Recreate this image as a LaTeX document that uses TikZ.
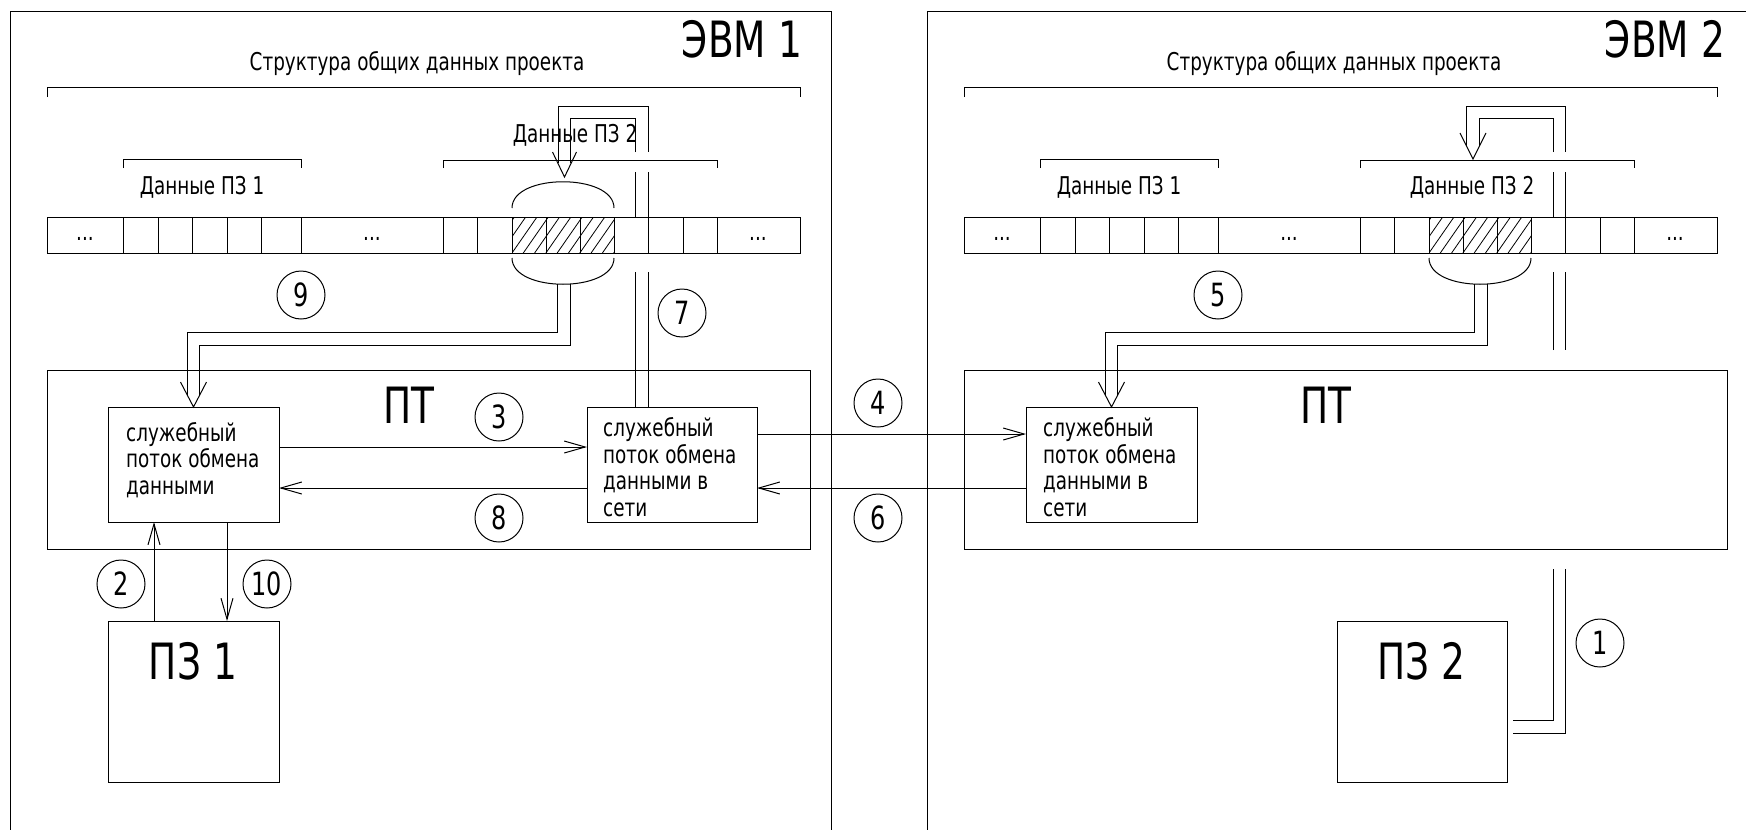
\documentclass[tikz,border=0pt]{standalone}
\usepackage{fontspec}
\setmainfont{DejaVu Sans}[FakeStretch=0.75]
\usetikzlibrary{arrows.meta,calc}
\tikzset{
  ln/.style={line width=1pt},
  hatch/.style={line width=0.8pt},
  arr/.style={line width=1pt, -{Straight Barb[length=21pt,width=12pt]}},
  pipe/.style={line width=1pt, double=white, double distance=11.5pt},
  vhead/.style={line width=1pt},
  box/.style={draw, line width=1pt, rectangle, inner sep=0pt, outer sep=0pt, anchor=north west},
  circ/.style={draw, line width=1pt, circle, minimum size=48pt, inner sep=0pt, font=\fontsize{32}{34}\selectfont},
  small/.style={inner sep=0pt, font=\fontsize{24.5}{26.5}\selectfont},
  big/.style={inner sep=0pt, font=\fontsize{50}{54}\selectfont},
}
\newcommand\datastruct[2]{%
 \begin{scope}[xshift=#1pt]
  \begin{scope}
   \clip (512,217) rectangle (614,253);
   \foreach \hk in {-3,...,10} \draw[hatch] (512+\hk*11.3,253) -- ++(25,-36);
  \end{scope}
  \draw[ln] (47,217) rectangle (800,253);
  \foreach \xx in {123,158,192,227,261,301,443,477,512,546,580,614,648,683,717} \draw[ln] (\xx,217) -- (\xx,253);
  \node[small] (#2dotsA) at (85,239) {...};
  \node[small] (#2dotsB) at (372,239) {...};
  \node[small] (#2dotsC) at (758,239) {...};
  \draw[ln] (47,97) -- (47,87) -- (800,87) -- (800,97);
  \draw[ln] (123,168) -- (123,159) -- (301,159) -- (301,168);
  \draw[ln] (443,168) -- (443,160) -- (717,160) -- (717,168);
  \draw[ln] (512,258) .. controls (512,293) and (614,293) .. (614,258);
  \node[small, anchor=base] (#2title) at (417,70) {Структура общих данных проекта};
  \node[small, anchor=base] (#2pzdata) at (202,194) {Данные ПЗ 1};
 \end{scope}}
\begin{document}
\begin{tikzpicture}[x=1pt,y=-1pt]
\useasboundingbox (0,0) rectangle (1746,830);
\clip (0,0) rectangle (1746,830);
% frames of the two computers
\draw[ln] (10,840) -- (10,11) -- (831,11) -- (831,840);
\draw[ln] (927,840) -- (927,11) -- (1760,11);
\node[big, anchor=base] (evm1) at (742,57) {ЭВМ 1};
\node[big, anchor=base] (evm2) at (1665,57) {ЭВМ 2};

% boxes
\node[box, minimum width=763, minimum height=179] (pt1) at (47,370) {};
\node[box, minimum width=763, minimum height=179] (pt2) at (964,370) {};
\node[box, minimum width=171, minimum height=115] (sl1) at (108,407) {};
\node[box, minimum width=170, minimum height=115] (net1) at (587,407) {};
\node[box, minimum width=171, minimum height=115] (net2) at (1026,407) {};
\node[box, minimum width=171, minimum height=161] (pz1) at (108,621) {};
\node[box, minimum width=170, minimum height=161] (pz2) at (1337,621) {};

% pipes (double connectors)
% ЭВМ1: data -> service stream (9)
\coordinate (capA) at (564,284);
\draw[pipe] (capA) -- (564,339) -- (sl1.north |- 0,339) -- ($(sl1.north)+(0,-12)$);
\draw[vhead] ($(sl1.north)+(-13,-25)$) -- (sl1.north) -- ($(sl1.north)+(13,-25)$);
% ЭВМ1: network stream -> data (7)
\coordinate (p7) at ($(net1.north west)+(55,0)$);
\draw[pipe] (p7) -- (p7 |- 0,272);
\draw[pipe] (p7 |- 0,217) -- (p7 |- 0,172);
\coordinate (tipA) at (564.5,177);
\draw[pipe] (p7 |- 0,152) -- (p7 |- 0,112.5) -- (tipA |- 0,112.5) -- ($(tipA)+(0,-14)$);
\draw[vhead] ($(tipA)+(-12,-25)$) -- (tipA) -- ($(tipA)+(12,-25)$);
% ЭВМ2: data -> network stream (5)
\coordinate (capB) at (1481,284);
\draw[pipe] (capB) -- (1481,339) -- (net2.north |- 0,339) -- ($(net2.north)+(0,-12)$);
\draw[vhead] ($(net2.north)+(-13,-25)$) -- (net2.north) -- ($(net2.north)+(13,-25)$);
% ЭВМ2: ПЗ 2 -> data (1)
\coordinate (p1) at (1559.5,727);
\draw[pipe] ($(pz2.north east)+(6,106)$) -- (p1) -- (p1 |- 0,569);
\draw[pipe] (p1 |- 0,350) -- (p1 |- 0,272);
\draw[pipe] (p1 |- 0,217) -- (p1 |- 0,172);
\coordinate (tipB) at (1473,159);
\draw[pipe] (p1 |- 0,152) -- (p1 |- 0,112.5) -- (tipB |- 0,112.5) -- ($(tipB)+(0,-13)$);
\draw[vhead] ($(tipB)+(-13,-26)$) -- (tipB) -- ($(tipB)+(13,-26)$);

% data structures
\datastruct{0}{a}
\datastruct{917}{b}
\draw[ln] (512,208) .. controls (512,173) and (614,173) .. (614,208);
\node[small, anchor=base] (apz2data) at (575,142) {Данные ПЗ 2};
\node[small, anchor=base] (bpz2data) at (1472,194) {Данные ПЗ 2};

% redraw boxes on top
\draw[ln] (pt1.north west) rectangle (pt1.south east);
\draw[ln] (pt2.north west) rectangle (pt2.south east);

% texts
\node[big, anchor=base] (pt1lbl) at (409,423) {ПТ};
\node[big, anchor=base] (pt2lbl) at (1326,423) {ПТ};
\node[big, anchor=base] (pz1lbl) at (193,679) {ПЗ 1};
\node[big, anchor=base] (pz2lbl) at (1421,679) {ПЗ 2};
\node[small, anchor=west, align=left] (sl1txt) at (126,460) {служебный\\поток обмена\\данными};
\node[small, anchor=west, align=left] (net1txt) at (603,467) {служебный\\поток обмена\\данными в\\сети};
\node[small, anchor=west, align=left] (net2txt) at (1043,467) {служебный\\поток обмена\\данными в\\сети};

% thin arrows
\draw[arr] ($(sl1.north east)+(0,40)$) -- ($(net1.north west)+(0,40)$);
\draw[arr] ($(net1.north west)+(0,81)$) -- ($(sl1.north east)+(0,81)$);
\draw[arr] ($(net1.north east)+(0,27)$) -- ($(net2.north west)+(0,27)$);
\draw[arr] ($(net2.north west)+(0,81)$) -- ($(net1.north east)+(0,81)$);
\draw[arr] ($(pz1.north west)+(46,0)$) -- ($(sl1.south west)+(46,0)$);
\draw[arr] ($(sl1.south west)+(119,0)$) -- ($(pz1.north west)+(119,0)$);

% numbered circles
\node[circ] (c1) at (1600,643) {1};
\node[circ] (c2) at (121,584) {2};
\node[circ] (c3) at (499,417) {3};
\node[circ] (c4) at (878,403) {4};
\node[circ] (c5) at (1218,295) {5};
\node[circ] (c6) at (878,518) {6};
\node[circ] (c7) at (682,313) {7};
\node[circ] (c8) at (499,518) {8};
\node[circ] (c9) at (301,295) {9};
\node[circ] (c10) at (267,584) {10};
\end{tikzpicture}
\end{document}
